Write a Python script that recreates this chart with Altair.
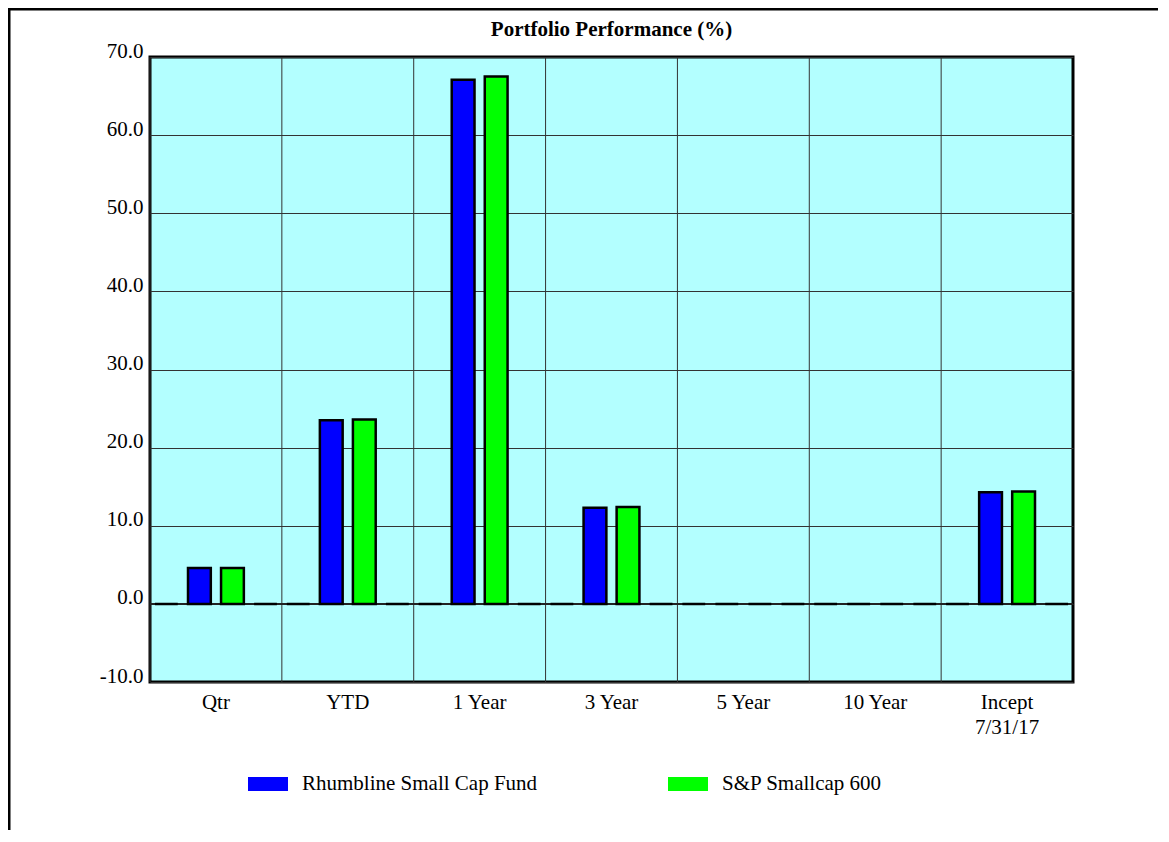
import altair as alt
import pandas as pd

title_text = "Portfolio Performance (%)"
categories = ["Qtr", "YTD", "1 Year", "3 Year", "5 Year", "10 Year", "Incept\n7/31/17"]
series_names = ["pad_left", "Rhumbline Small Cap Fund", "S&P Smallcap 600", "pad_right"]
pad_left = [0, 0, 0, 0, 0, 0, 0]
rhumbline = [4.6, 23.5, 67.1, 12.3, 0, 0, 14.3]
sp600 = [4.6, 23.6, 67.5, 12.4, 0, 0, 14.4]
pad_right = [0, 0, 0, 0, 0, 0, 0]
legend_names = ["Rhumbline Small Cap Fund", "S&P Smallcap 600"]
series_colors = ["#b3ffff", "#0000ff", "#00ff00", "#b3ffff"]
y_ticks = [-10, 0, 10, 20, 30, 40, 50, 60, 70]

rows = []
for name, vals in zip(series_names, [pad_left, rhumbline, sp600, pad_right]):
    for c, v in zip(categories, vals):
        rows.append({"category": c, "series": name, "value": v})
df = pd.DataFrame(rows)
cat_df = pd.DataFrame({"category": categories})

FONT = "Liberation Serif"
FS = 21
W, H = 923, 625

x_scale = alt.Scale(domain=categories, paddingInner=0, paddingOuter=0)
y_scale = alt.Scale(domain=[-10, 70], nice=False, zero=False)

grid_rules = alt.Chart(cat_df).mark_rule(color="#333333", strokeWidth=1).encode(
    x=alt.X("category:N", scale=x_scale, sort=categories, bandPosition=0,
            axis=alt.Axis(title=None, labelAngle=0, ticks=False, domain=False, grid=False,
                          labelExpr="split(datum.label, '\\n')", labelFont=FONT,
                          labelFontSize=FS, labelColor="black", labelPadding=9,
                          labelLineHeight=25, labelBaseline="top")),
)

zero_rule = alt.Chart(cat_df).mark_rule(color="#222222", strokeWidth=2).encode(
    y=alt.datum(0, scale=y_scale),
)

bars = alt.Chart(df).mark_bar(stroke="black", strokeWidth=2.5).encode(
    x=alt.X("category:N", scale=x_scale, sort=categories),
    xOffset=alt.XOffset("series:N", sort=series_names,
                        scale=alt.Scale(domain=series_names, paddingInner=0.31, paddingOuter=0.15)),
    y=alt.Y("value:Q", scale=y_scale,
            axis=alt.Axis(title=None, values=y_ticks, ticks=False, domain=False,
                          labelExpr="(datum.value < 0 ? '-' : '') + format(abs(datum.value), '.1f')",
                          grid=True, gridColor="#333333", gridWidth=1, labelFont=FONT,
                          labelFontSize=FS, labelColor="black", labelPadding=7,
                          labelBaseline="alphabetic", labelFlush=False)),
    color=alt.Color("series:N", scale=alt.Scale(domain=series_names, range=series_colors),
                    legend=alt.Legend(values=legend_names, title=None, orient="none",
                                      direction="horizontal", columns=2, legendX=98, legendY=707,
                                      symbolType="M-1,-0.35L1,-0.35L1,0.35L-1,0.35Z",
                                      symbolSize=1600, symbolStrokeWidth=0, labelFont=FONT,
                                      labelFontSize=FS, labelColor="black", labelOffset=14,
                                      labelLimit=500, columnPadding=130, padding=0)),
)

frame_df = pd.DataFrame({"k": [0]})
frame_left = alt.Chart(frame_df).mark_rule(color="black", strokeWidth=3).encode(
    x=alt.value(-141), y=alt.value(-48), y2=alt.value(800))
frame_top = alt.Chart(frame_df).mark_rule(color="black", strokeWidth=3).encode(
    x=alt.value(-142), x2=alt.value(1100), y=alt.value(-48))

title_mark = alt.Chart(frame_df).mark_text(
    font=FONT, fontSize=FS, fontWeight="bold", color="black", align="center", baseline="middle"
).encode(x=alt.value(W / 2), y=alt.value(-27), text=alt.value(title_text))

chart = alt.layer(grid_rules, zero_rule, bars, frame_left, frame_top, title_mark).properties(
    width=W, height=H,
    autosize=alt.AutoSizeParams(type="none"),
    padding={"left": 142, "top": 49, "right": 85, "bottom": 148},
).configure_view(fill="#b3ffff", stroke="black", strokeWidth=3)

chart.save("out.html", embed_options={"renderer": "svg", "actions": False})
